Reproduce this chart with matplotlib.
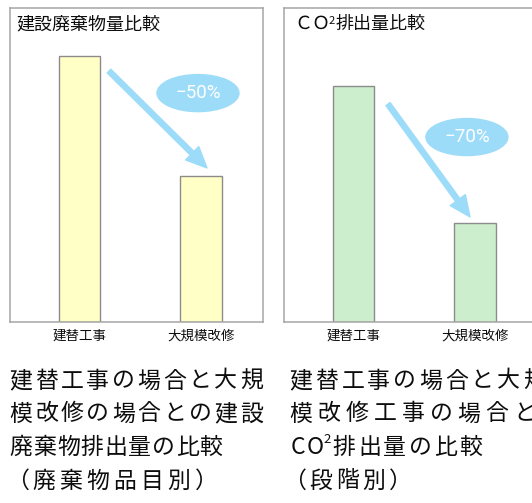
import matplotlib
matplotlib.use('Agg')
import matplotlib.pyplot as plt
from matplotlib.patches import Ellipse

# ---------------- data ----------------
categories = ['建替工事', '大規模改修']
waste_values = [100, 55]
co2_values = [100, 42]
waste_change = '−50%'
co2_change = '−70%'
waste_title = '建設廃棄物量比較'
co2_title_a = 'ＣＯ'
co2_title_sup = '2'
co2_title_b = '排出量比較'
left_caption = ['建替工事の場合と大規', '模改修の場合との建設', '廃棄物排出量の比較', '（廃棄物品目別）']
right_caption = ['建替工事の場合と大規', '模改修工事の場合と', 'CO', '排出量の比較', '（段階別）']

# ---------------- style ----------------
W, H = 532, 503
CJK = ['Noto Sans CJK JP', 'DejaVu Sans']
plt.rcParams['font.family'] = CJK
BLUE = '#9DDCF9'
TXT = '#0d0d0d'

fig = plt.figure(figsize=(W / 100, H / 100), dpi=100)
fig.patch.set_facecolor('white')


def px_rect(x0, y0, x1, y1):
    return [x0 / W, 1 - y1 / H, (x1 - x0) / W, (y1 - y0) / H]


def ftext(x, y, s, **kw):
    return fig.text(x / W, 1 - y / H, s, **kw)


def spaced(xc0, y, s, pitch, size=16.5):
    for i, ch in enumerate(s):
        ftext(xc0 + i * pitch, y, ch, ha='center', va='center', fontsize=size,
              color=TXT, family=CJK)


axL = fig.add_axes(px_rect(10, 8, 263, 322))
axR = fig.add_axes(px_rect(284, 8, 537, 322))

panels = [
    (axL, waste_values, '#FFFFC6', 118, waste_change,
     ((0.243, waste_values[0] - 5.7), (1.049, waste_values[1] + 2.9)),
     (0.743, 0.729)),
    (axR, co2_values, '#CCEECC', 133, co2_change,
     ((0.284, co2_values[0] - 7.7), (0.959, co2_values[1] + 2.5)),
     (0.723, 0.589)),
]

for ax, vals, fill, ymax, change, (start, end), ecenter in panels:
    ax.bar(range(len(categories)), vals, width=0.345, color=fill,
           edgecolor='#8c8c8c', linewidth=1.0, zorder=2)
    ax.set_xlim(-0.572, 1.51)
    ax.set_ylim(0, ymax)
    ax.set_yticks([])
    ax.set_xticks(range(len(categories)), categories)
    ax.tick_params(axis='x', length=0, pad=5, labelsize=9.7, labelcolor=TXT)
    for sp in ax.spines.values():
        sp.set_color('#a6a6a6')
        sp.set_linewidth(1.1)
    ax.annotate('', xy=end, xytext=start,
                arrowprops=dict(arrowstyle='simple,head_length=1.0,head_width=0.9,tail_width=0.25',
                                color=BLUE, mutation_scale=15, shrinkA=0, shrinkB=0),
                annotation_clip=False, zorder=3)
    ax.add_patch(Ellipse(ecenter, 0.324, 0.118, transform=ax.transAxes,
                         color=BLUE, zorder=4, clip_on=False))
    ax.text(ecenter[0], ecenter[1], change, transform=ax.transAxes, ha='center',
            va='center', color='white', fontsize=13.5, fontweight='normal',
            family=['Roboto', 'DejaVu Sans'], zorder=5)

# panel titles
ftext(16, 24, waste_title, ha='left', va='center', fontsize=13, color=TXT)
ftext(294, 24, co2_title_a, ha='left', va='center', fontsize=13, color=TXT)
ftext(329, 20.5, co2_title_sup, ha='left', va='center', fontsize=8, color=TXT)
ftext(336, 24, co2_title_b, ha='left', va='center', fontsize=13, color=TXT)

# captions (left column)
spaced(21, 381, left_caption[0], 25.6)
spaced(21, 414, left_caption[1], 25.6)
spaced(21, 447.5, left_caption[2], 23.75)
spaced(17, 481, left_caption[3], 27)

# captions (right column)
spaced(301, 381, right_caption[0], 25.9)
spaced(301, 414, right_caption[1], 28)
spaced(297.5, 447.5, right_caption[2], 18)
ftext(323.5, 439.5, '2', ha='left', va='center', fontsize=9.5, color=TXT)
spaced(344, 447.5, right_caption[3], 25.4)
spaced(294.5, 481, right_caption[4], 26.5)

fig.savefig('out.png', dpi=100, facecolor='white')
